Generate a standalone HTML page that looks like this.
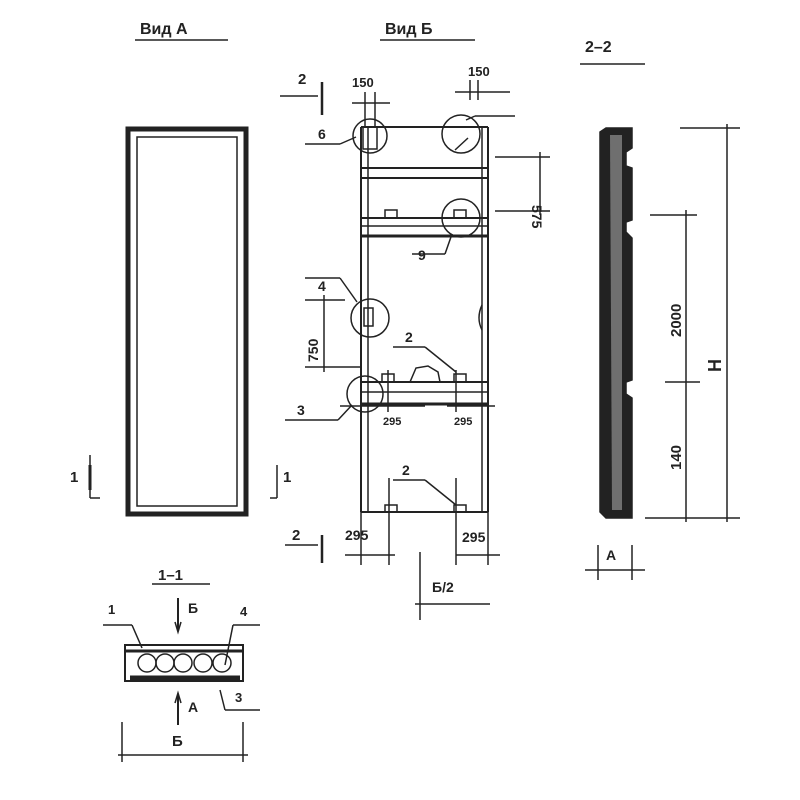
<!DOCTYPE html>
<html><head><meta charset="utf-8"><style>
html,body{margin:0;padding:0;background:#fff}
svg{display:block}
text{font-family:"Liberation Sans",sans-serif;fill:#222;font-weight:bold}
</style></head><body>
<svg width="800" height="800" viewBox="0 0 800 800" xmlns="http://www.w3.org/2000/svg">
<g stroke="#222" fill="none" stroke-width="1.5">
<!-- Вид А -->
<text x="140" y="34" font-size="16" stroke="none">Вид А</text>
<line x1="135" y1="40" x2="228" y2="40"/>
<rect x="128" y="129" width="118" height="385" stroke-width="5"/>
<rect x="137" y="137" width="100" height="369" stroke-width="1.5"/>
<line x1="90" y1="455" x2="90" y2="498"/><line x1="90" y1="498" x2="100" y2="498"/>
<line x1="90" y1="465" x2="90" y2="490" stroke-width="3"/>
<text x="70" y="482" font-size="15" stroke="none">1</text>
<line x1="277" y1="465" x2="277" y2="498"/><line x1="270" y1="498" x2="277" y2="498"/>
<text x="283" y="482" font-size="15" stroke="none">1</text>

<!-- Вид Б -->
<text x="385" y="34" font-size="16" stroke="none">Вид Б</text>
<line x1="380" y1="40" x2="475" y2="40"/>
<line x1="280" y1="96" x2="318" y2="96"/><line x1="322" y1="82" x2="322" y2="115" stroke-width="2.5"/>
<text x="298" y="84" font-size="15" stroke="none">2</text>
<line x1="285" y1="545" x2="318" y2="545"/><line x1="322" y1="535" x2="322" y2="563" stroke-width="2.5"/>
<text x="292" y="540" font-size="15" stroke="none">2</text>
<!-- frame -->
<line x1="361" y1="127" x2="361" y2="512" stroke-width="2"/>
<line x1="368" y1="127" x2="368" y2="512"/>
<line x1="482" y1="127" x2="482" y2="512"/>
<line x1="488" y1="127" x2="488" y2="512" stroke-width="2"/>
<line x1="361" y1="127" x2="488" y2="127" stroke-width="2"/>
<line x1="361" y1="512" x2="488" y2="512" stroke-width="2"/>
<line x1="361" y1="168" x2="488" y2="168" stroke-width="2"/>
<line x1="361" y1="178" x2="488" y2="178" stroke-width="2"/>
<line x1="361" y1="218" x2="488" y2="218" stroke-width="2"/>
<line x1="361" y1="226" x2="488" y2="226"/>
<line x1="361" y1="236" x2="488" y2="236" stroke-width="3"/>
<line x1="361" y1="382" x2="488" y2="382" stroke-width="2"/>
<line x1="361" y1="392" x2="488" y2="392"/>
<line x1="361" y1="404" x2="488" y2="404" stroke-width="3"/>
<rect x="385" y="210" width="12" height="8"/><rect x="454" y="210" width="12" height="8"/>
<rect x="382" y="374" width="12" height="8"/><rect x="454" y="374" width="12" height="8"/>
<path d="M410 382 L416 368 L428 366 L438 372 L440 382"/>
<rect x="385" y="505" width="12" height="7"/><rect x="454" y="505" width="12" height="7"/>
<path d="M482 305 Q476 318 482 330"/>
<!-- circles -->
<circle cx="370" cy="136" r="17"/><rect x="363" y="127" width="14" height="22"/>
<circle cx="461" cy="134" r="19"/><path d="M455 150 L468 138"/>
<circle cx="461" cy="218" r="19"/>
<circle cx="370" cy="318" r="19"/><rect x="364" y="308" width="9" height="18"/>
<circle cx="365" cy="394" r="18"/>
<!-- leaders -->
<line x1="305" y1="144" x2="340" y2="144"/><line x1="340" y1="144" x2="356" y2="137"/>
<text x="318" y="139" font-size="14" stroke="none">6</text>
<line x1="475" y1="116" x2="515" y2="116"/><line x1="475" y1="116" x2="466" y2="120"/>
<line x1="412" y1="254" x2="445" y2="254"/><line x1="445" y1="254" x2="452" y2="234"/>
<text x="418" y="260" font-size="14" stroke="none">9</text>
<line x1="305" y1="278" x2="340" y2="278"/><line x1="340" y1="278" x2="357" y2="302"/>
<text x="318" y="291" font-size="14" stroke="none">4</text>
<line x1="285" y1="420" x2="338" y2="420"/><line x1="338" y1="420" x2="352" y2="405"/>
<text x="297" y="415" font-size="14" stroke="none">3</text>
<line x1="393" y1="347" x2="425" y2="347"/><line x1="425" y1="347" x2="456" y2="372"/>
<text x="405" y="342" font-size="14" stroke="none">2</text>
<line x1="393" y1="480" x2="425" y2="480"/><line x1="425" y1="480" x2="456" y2="505"/>
<text x="402" y="475" font-size="14" stroke="none">2</text>
<!-- dims top -->
<line x1="352" y1="103" x2="390" y2="103"/><line x1="365" y1="92" x2="365" y2="127"/><line x1="375" y1="92" x2="375" y2="127"/>
<text x="352" y="87" font-size="13" stroke="none">150</text>
<line x1="455" y1="92" x2="510" y2="92"/><line x1="470" y1="80" x2="470" y2="100"/><line x1="478" y1="80" x2="478" y2="100"/>
<text x="468" y="76" font-size="13" stroke="none">150</text>
<!-- 575 -->
<line x1="495" y1="157" x2="550" y2="157"/><line x1="495" y1="211" x2="550" y2="211"/>
<line x1="540" y1="152" x2="540" y2="215"/>
<text x="0" y="0" font-size="14" stroke="none" transform="translate(532,205) rotate(90)">575</text>
<!-- 750 -->
<line x1="305" y1="300" x2="345" y2="300"/><line x1="305" y1="367" x2="362" y2="367"/>
<line x1="324" y1="295" x2="324" y2="372"/>
<text x="0" y="0" font-size="14" stroke="none" transform="translate(318,362) rotate(-90)">750</text>
<!-- 295 middle -->
<line x1="340" y1="406" x2="425" y2="406"/><line x1="447" y1="406" x2="495" y2="406"/>
<line x1="388" y1="370" x2="388" y2="412"/><line x1="456" y1="370" x2="456" y2="412"/>
<text x="383" y="425" font-size="11" stroke="none">295</text>
<text x="454" y="425" font-size="11" stroke="none">295</text>
<!-- 295 bottom -->
<line x1="345" y1="555" x2="395" y2="555"/><line x1="456" y1="555" x2="500" y2="555"/>
<line x1="389" y1="478" x2="389" y2="565"/><line x1="456" y1="478" x2="456" y2="565"/>
<line x1="361" y1="512" x2="361" y2="565"/><line x1="488" y1="512" x2="488" y2="565"/>
<text x="345" y="540" font-size="14" stroke="none">295</text>
<text x="462" y="542" font-size="14" stroke="none">295</text>
<!-- Б/2 -->
<line x1="420" y1="552" x2="420" y2="620"/><line x1="415" y1="604" x2="490" y2="604"/>
<text x="432" y="592" font-size="14" stroke="none">Б/2</text>

<!-- 2-2 -->
<text x="585" y="52" font-size="16" stroke="none">2–2</text>
<line x1="580" y1="64" x2="645" y2="64"/>
<path d="M600 132 L606 128 L632 128 L632 148 L626 152 L626 166 L632 168 L632 220 L626 222 L626 232 L632 238 L632 380 L626 382 L626 394 L632 398 L632 518 L606 518 L600 512 Z" fill="#222"/>
<path d="M610 135 L622 135 L622 510 L612 510 Z" fill="#fff" stroke="none" opacity="0.35"/>
<!-- dims -->
<line x1="650" y1="215" x2="697" y2="215"/><line x1="665" y1="382" x2="700" y2="382"/>
<line x1="645" y1="518" x2="740" y2="518"/><line x1="680" y1="128" x2="740" y2="128"/>
<line x1="686" y1="210" x2="686" y2="522"/>
<line x1="727" y1="124" x2="727" y2="522"/>
<text x="0" y="0" font-size="15" stroke="none" transform="translate(681,337) rotate(-90)">2000</text>
<text x="0" y="0" font-size="15" stroke="none" transform="translate(681,470) rotate(-90)">140</text>
<text x="0" y="0" font-size="18" stroke="none" transform="translate(721,372) rotate(-90)">Н</text>
<line x1="585" y1="570" x2="645" y2="570"/><line x1="598" y1="545" x2="598" y2="580"/><line x1="632" y1="545" x2="632" y2="580"/>
<text x="606" y="560" font-size="14" stroke="none">А</text>

<!-- 1-1 -->
<text x="158" y="580" font-size="15" stroke="none">1–1</text>
<line x1="152" y1="584" x2="210" y2="584"/>
<line x1="178" y1="598" x2="178" y2="630" stroke-width="2"/><path d="M175 622 L178 632 L181 622"/>
<text x="188" y="613" font-size="14" stroke="none">Б</text>
<rect x="125" y="645" width="118" height="36" stroke-width="2"/>
<line x1="125" y1="651" x2="243" y2="651" stroke-width="3"/>
<line x1="130" y1="678" x2="240" y2="678" stroke-width="5"/>
<circle cx="147" cy="663" r="9"/><circle cx="165" cy="663" r="9"/><circle cx="183" cy="663" r="9"/><circle cx="203" cy="663" r="9"/><circle cx="222" cy="663" r="9"/>
<line x1="103" y1="625" x2="132" y2="625"/><line x1="132" y1="625" x2="142" y2="648"/>
<text x="108" y="614" font-size="13" stroke="none">1</text>
<line x1="233" y1="625" x2="260" y2="625"/><line x1="233" y1="625" x2="225" y2="665"/>
<text x="240" y="616" font-size="13" stroke="none">4</text>
<line x1="220" y1="690" x2="225" y2="710"/><line x1="225" y1="710" x2="260" y2="710"/>
<text x="235" y="702" font-size="13" stroke="none">3</text>
<line x1="178" y1="694" x2="178" y2="725" stroke-width="2"/><path d="M175 703 L178 693 L181 703"/>
<text x="188" y="712" font-size="14" stroke="none">А</text>
<line x1="122" y1="722" x2="122" y2="762"/><line x1="243" y1="722" x2="243" y2="762"/>
<line x1="118" y1="755" x2="248" y2="755"/>
<text x="172" y="746" font-size="15" stroke="none">Б</text>
</g>
</svg>
</body></html>
